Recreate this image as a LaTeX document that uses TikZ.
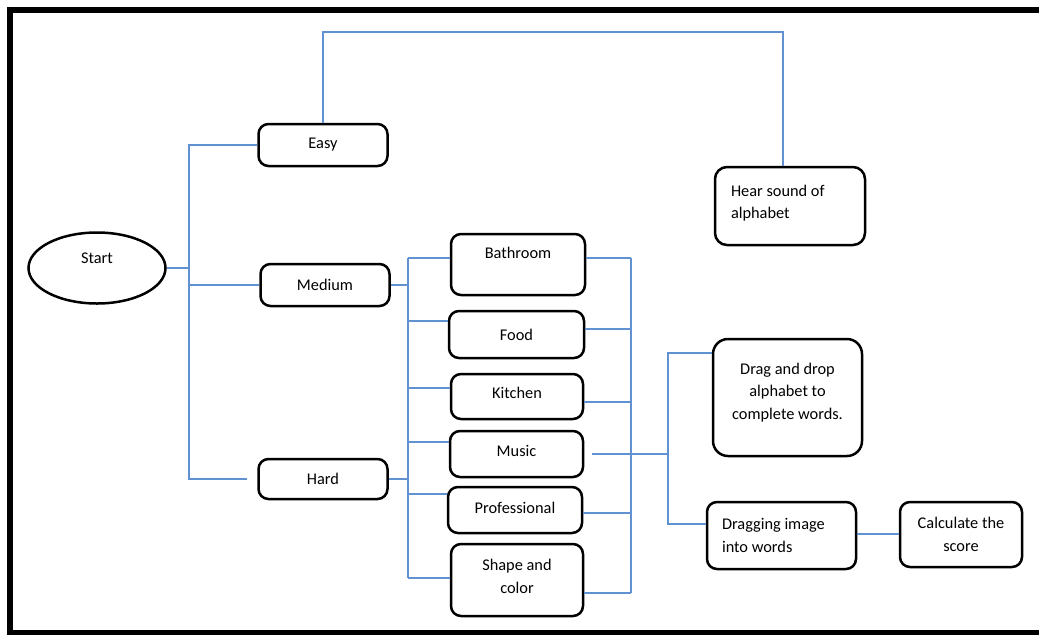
\documentclass[tikz,border=0pt]{standalone}
\usepackage{fontspec}
\setmainfont{Carlito}
\usetikzlibrary{shapes.geometric, calc}
\definecolor{linkblue}{RGB}{96,146,210}

\begin{document}
\begin{tikzpicture}[x=0.2mm, y=-0.2mm, font=\fontsize{9.3}{12.8}\selectfont,
    main/.style = {draw, rounded corners=2mm, line width=0.5mm, inner sep=0pt, align=center},
    link/.style = {draw=linkblue, line width=0.8pt}]

    \clip (0, 0) rectangle (1039, 634);
    \draw[line width=1.2mm] (10, 10) rectangle (1060, 633);

    %--------------------------------------------

    \node[draw, ellipse, line width=0.5mm, inner sep=0pt, minimum width=27.4mm, minimum height=14.2mm, text depth=11pt] (s) at (97, 268) {Start};
    \node[main, minimum width=25.8mm, minimum height=8.4mm] (e) at (323, 145) {Easy};
    \node[main, minimum width=25.8mm, minimum height=8.4mm] (m) at (325, 285) {Medium};
    \node[main, minimum width=25.8mm, minimum height=8.0mm] (h) at (323, 479) {Hard};
    \node[main, minimum width=30.0mm, minimum height=15.6mm, text width=23.6mm, align=flush left, text depth=17.6pt, rounded corners=2.4mm] (hr) at (790, 206) {Hear sound of\\alphabet};

    \coordinate (lv) at (189, 268);
    \coordinate (top) at (0, 32);
    \draw[link] (s) -- (lv);
    \draw[link] (e.west) -| (lv) |- ([xshift=-2mm]h.west);
    \draw[link] (lv |- m.west) -- (m.west);
    \draw[link] (e.north) -- (e.north |- top) -| ([xshift=-1.4mm]hr.north);

    %--------------------------------------------

    \node[main, minimum width=26.8mm, minimum height=12.2mm, text depth=13pt] (b) at (518, 264.5) {Bathroom};
    \node[main, minimum width=27.0mm, minimum height=9.4mm] (f) at (516.5, 334.5) {Food};
    \node[main, minimum width=26.4mm, minimum height=9.0mm, text depth=4pt] (k) at (517, 396.5) {Kitchen};
    \node[main, minimum width=26.6mm, minimum height=9.2mm, text depth=4pt] (mu) at (516.5, 454) {Music};
    \node[main, minimum width=26.8mm, minimum height=9.2mm, text depth=3pt] (p) at (515, 510) {Professional};
    \node[main, minimum width=26.4mm, minimum height=14.4mm, text depth=4pt] (sc) at (517, 580) {Shape and\\color};

    \coordinate (cb) at (408, 258);
    \draw[link] (m.east) -- (m.east -| cb);
    \draw[link] (h.east) -- (h.east -| cb);
    \draw[link] (cb) -- ($(sc.west -| cb)+(0,-2)$);
    \foreach \n/\dy in {b/-6.5, f/-13.5, k/-8.5, mu/-12, p/-16, sc/-2}
        \draw[link] ($(\n.west -| cb)+(0,\dy)$) -- ($(\n.west)+(0,\dy)$);

    \coordinate (rb) at (631, 258);
    \draw[link] (rb) -- ($(sc.east -| rb)+(0,13)$);
    \foreach \n/\dy in {b/-6.5, f/-5.5, k/5.5, p/3, sc/13}
        \draw[link] ($(\n.east)+(0,\dy)$) -- ($(\n.east -| rb)+(0,\dy)$);
    \draw[link, shorten <=1.6mm] (mu.east) -- (mu.east -| rb);

    %--------------------------------------------

    \node[main, minimum width=29.8mm, minimum height=23.4mm, text depth=7.4pt, rounded corners=3mm] (d) at (787.5, 397.5) {Drag and drop\\alphabet to\\complete words.};
    \node[main, minimum width=29.8mm, minimum height=13.4mm, text width=23.8mm, align=flush left] (di) at (781.5, 535.5) {Dragging image\\into words};
    \node[main, minimum width=24.4mm, minimum height=13.0mm] (c) at (961, 534.5) {Calculate the\\score};

    \coordinate (ab) at (668, 454);
    \draw[link] (mu.east -| rb) -- (ab);
    \draw[link] ($(d.west)+(0,-44.5)$) -| (ab) |- ($(di.west)+(0,-11.5)$);
    \draw[link] ($(di.east)+(0,-1.5)$) -- ($(di.east -| c.west)+(0,-1.5)$);

\end{tikzpicture}
\end{document}
